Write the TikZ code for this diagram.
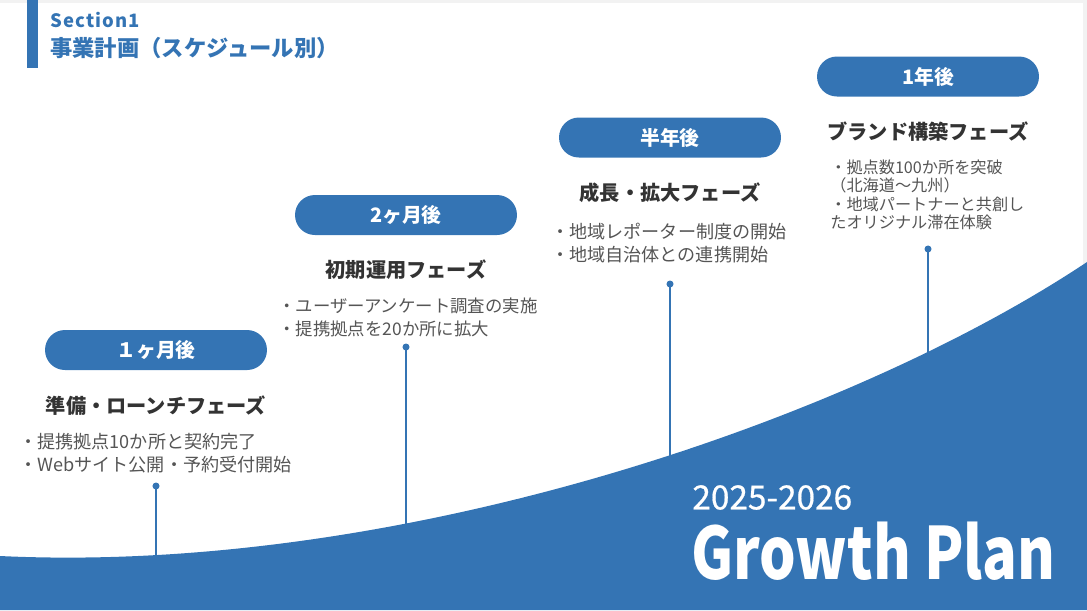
\documentclass[tikz,border=0pt]{standalone}
\usepackage{fontspec}
\setmainfont{Noto Sans CJK JP}
\definecolor{planblue}{RGB}{52,116,180}
\definecolor{headgray}{RGB}{51,51,51}
\definecolor{itemgray}{RGB}{85,85,85}

\begin{document}
\begin{tikzpicture}[x=0.02cm,y=-0.02cm,
  pill/.style={fill=planblue,rounded corners=11.3pt,minimum width=4.44cm,minimum height=0.8cm,
    inner sep=0pt,text=white,font=\bfseries\fontsize{11.3}{13}\selectfont},
  phase/.style={text=headgray,font=\bfseries\fontsize{11.5}{13}\selectfont},
  items/.style={anchor=west,align=left,inner sep=0pt,text=itemgray,font=\fontsize{10.3}{13}\selectfont},
  stem/.style={planblue,line width=1.1pt}]
  \useasboundingbox (0,0) rectangle (1087,610);
  \fill[gray!10] (0,0) rectangle (1087,3);
  \fill[gray!10] (1083,0) rectangle (1087,610);
  % section heading
  \fill[planblue] (27,0) rectangle (38,68);
  \node[anchor=west,inner sep=0pt,text=planblue,font=\bfseries\fontsize{10.5}{12}\selectfont\addfontfeature{LetterSpace=6}] (sec) at (50,19.5) {Section1};
  \node[anchor=west,inner sep=0pt,text=planblue,font=\bfseries\fontsize{12.7}{14}\selectfont] (title) at (50,48.5) {事業計画（スケジュール別）};

  % phases
  \node[pill] (p1) at (156,350) {１ヶ月後};
  \node[phase] (h1) at (156,406) {準備・ローンチフェーズ};
  \node[items] (l1) at (19,453.5) {・提携拠点10か所と契約完了\\・Webサイト公開・予約受付開始};
  \coordinate (d1) at (156,486); \coordinate (b1) at (156,565);

  \node[pill] (p2) at (406,215) {2ヶ月後};
  \node[phase] (h2) at (406,270) {初期運用フェーズ};
  \node[items,font=\fontsize{9.9}{13}\selectfont] (l2) at (278,317.5) {・ユーザーアンケート調査の実施\\・提携拠点を20か所に拡大};
  \coordinate (d2) at (406,347); \coordinate (b2) at (406,530);

  \node[pill] (p3) at (670,137.5) {半年後};
  \node[phase] (h3) at (670,193) {成長・拡大フェーズ};
  \node[items] (l3) at (551,243) {・地域レポーター制度の開始\\・地域自治体との連携開始};
  \coordinate (d3) at (670,284); \coordinate (b3) at (670,460);

  \node[pill] (p4) at (928,76.5) {1年後};
  \node[phase] (h4) at (928,132) {ブランド構築フェーズ};
  \node[items,font=\fontsize{9.2}{10.6}\selectfont] (l4) at (830,195)
    {・拠点数100か所を突破\\（北海道〜九州）\\・地域パートナーと共創し\\たオリジナル滞在体験};
  \coordinate (d4) at (928,249); \coordinate (b4) at (928,365);

  \foreach \i in {1,...,4}{
    \draw[stem] (d\i) -- (b\i);
    \fill[planblue] (d\i) circle (2pt);
  }

  % growth curve
  \fill[planblue] (0,556) .. controls (400,575) and (850,420) .. (1087,262) -- (1087,610) -- (0,610) -- cycle;
  \node[anchor=west,inner sep=0pt,text=white,font=\fontsize{19}{21}\selectfont\addfontfeature{FakeBold=0.6}] (years) at (692,497.5) {2025-2026};
  \node[anchor=base west,inner sep=0pt,text=white,font=\bfseries\fontsize{41}{44}\selectfont] (plan) at (691,579) {\scalebox{0.8}[1]{Growth Plan}};
\end{tikzpicture}
\end{document}
